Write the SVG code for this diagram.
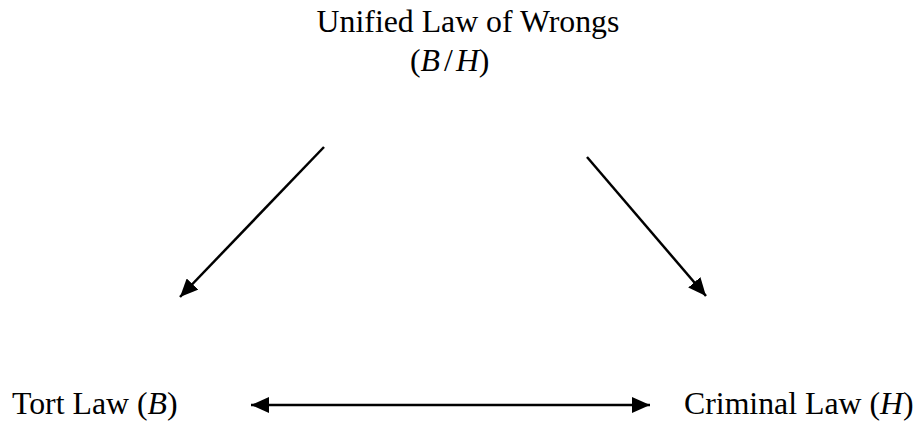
<svg xmlns="http://www.w3.org/2000/svg" width="917" height="423" viewBox="0 0 917 423">
<style>
text { font-family: "Liberation Serif", "Times New Roman", serif; fill: #000; }
.lbl { font-size: 31.8px; }
.m { font-style: italic; }
.conn { stroke: #000; stroke-width: 2.5; fill: none; }
</style>
<defs>
<marker id="ah" markerUnits="userSpaceOnUse" markerWidth="20" markerHeight="16" refX="18" refY="8" orient="auto-start-reverse">
<path d="M0,0 L18,8 L0,16 Z" fill="#000"/>
</marker>
</defs>
<rect width="917" height="423" fill="#fff"/>
<g id="unified">
<text class="lbl" x="468" y="32" text-anchor="middle">Unified Law of Wrongs</text>
<text class="lbl" x="410" y="71">(<tspan class="m">B</tspan><tspan dx="4">/</tspan><tspan class="m" dx="3">H</tspan>)</text>
</g>
<g id="tort">
<text class="lbl" x="12" y="414">Tort Law (<tspan class="m">B</tspan>)</text>
</g>
<g id="criminal">
<text class="lbl" x="684" y="414">Criminal Law (<tspan class="m">H</tspan>)</text>
</g>
<g id="connectors">
<line class="conn" x1="324" y1="147" x2="180" y2="297" marker-end="url(#ah)"/>
<line class="conn" x1="587" y1="157" x2="706" y2="296" marker-end="url(#ah)"/>
<line class="conn" x1="251" y1="405" x2="650" y2="405" marker-start="url(#ah)" marker-end="url(#ah)"/>
</g>
</svg>
